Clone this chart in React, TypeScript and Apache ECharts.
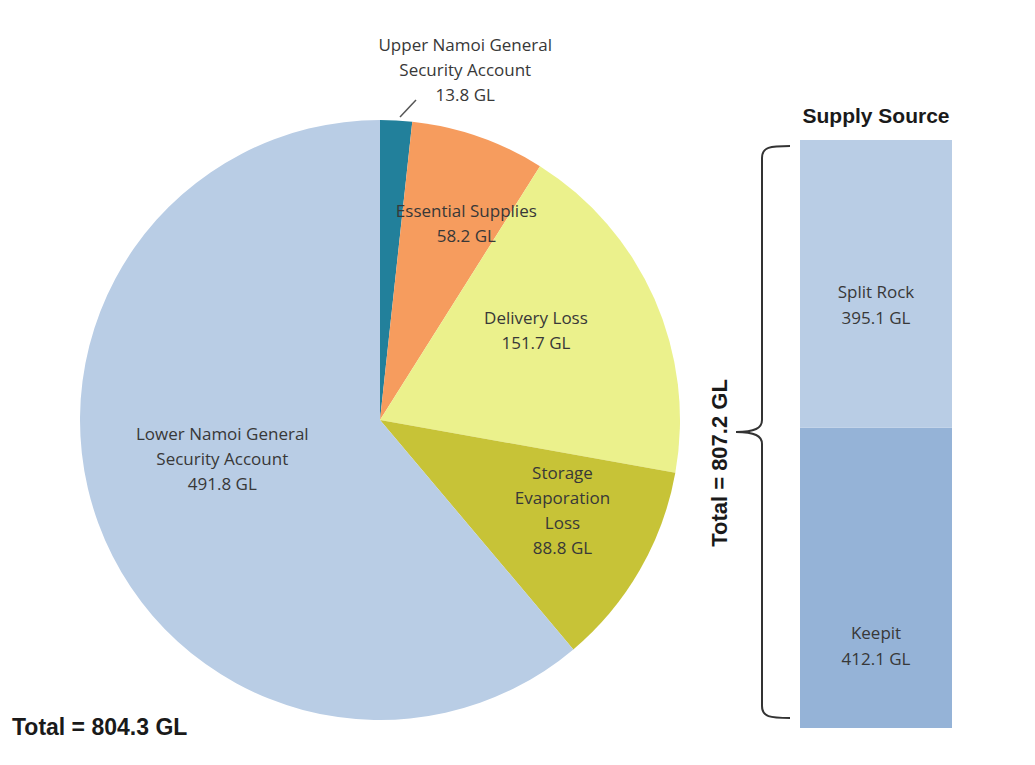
import React, { useEffect, useRef } from "react";
import * as echarts from "echarts";

// ---- data ----
const pieNames = [
  "Upper Namoi General\nSecurity Account",
  "Essential Supplies",
  "Delivery Loss",
  "Storage\nEvaporation\nLoss",
  "Lower Namoi General\nSecurity Account",
];
const pieValues = [13.8, 58.2, 151.7, 88.8, 491.8];
const pieTotalLabel = "Total = 804.3 GL";

const supplyNames = ["Keepit", "Split Rock"];
const supplyValues = [412.1, 395.1];
const supplyTotal = 807.2;
const supplyTotalLabel = "Total = 807.2 GL";
const supplyTitle = "Supply Source";

// ---- styles / layout ----
const pieColors = ["#22809b", "#f69c5e", "#ebf18c", "#c7c337", "#b9cde5"];
const pieLabelShift = [
  [77, -198],
  [36, -53],
  [16, -28],
  [50, 13],
  [-14, -14],
];
const barColors = ["#95b3d7", "#b9cde5"];
const barLabelShift = [68, 21];

const bracePath =
  "M790,146 C770,146 762,147 762,158 L762,420 C762,428 755,432 736,432 C755,432 762,436 762,444 L762,706 C762,717 770,718 790,718";

echarts.graphic.registerShape("brace", echarts.graphic.extendPath(bracePath, {}));

const labelFont = "'Open Sans', 'Noto Sans', sans-serif";
const boldFont = "'Liberation Sans', Arial, sans-serif";

export default function App() {
  const ref = useRef<HTMLDivElement>(null);
  useEffect(() => {
    document.body.style.margin = "0";
    const chart = echarts.init(ref.current!, null, { renderer: "svg" });
    chart.setOption({
      animation: false,
      backgroundColor: "#ffffff",
      grid: { left: 800, top: 140, width: 152, height: 588 },
      xAxis: { type: "category", data: ["supply"], show: false },
      yAxis: { type: "value", min: 0, max: supplyTotal, show: false },
      series: [
        {
          type: "pie",
          center: [380, 420],
          radius: 300,
          startAngle: 90,
          clockwise: true,
          label: {
            show: true,
            position: "inside",
            formatter: (p: any) => `${p.name}\n${p.value} GL`,
            color: "#383838",
            fontFamily: labelFont,
            fontSize: 17,
            lineHeight: 25,
            align: "center",
          },
          labelLine: { show: false },
          labelLayout: (p: any) => ({
            dx: pieLabelShift[p.dataIndex][0],
            dy: pieLabelShift[p.dataIndex][1],
          }),
          itemStyle: { borderWidth: 0 },
          emphasis: { disabled: true },
          data: pieNames.map((n, i) => ({
            name: n,
            value: pieValues[i],
            itemStyle: { color: pieColors[i] },
          })),
        },
        ...supplyNames.map((n, i) => ({
          type: "bar",
          name: n,
          stack: "total",
          barWidth: "100%",
          data: [supplyValues[i]],
          itemStyle: { color: barColors[i] },
          label: {
            show: true,
            position: "inside",
            formatter: (p: any) => `${p.seriesName}\n${p.value} GL`,
            color: "#383838",
            fontFamily: labelFont,
            fontSize: 17,
            lineHeight: 26,
            offset: [0, barLabelShift[i]],
          },
          emphasis: { disabled: true },
        })),
      ],
      graphic: [
        {
          type: "line",
          shape: { x1: 400, y1: 117, x2: 416, y2: 100 },
          style: { stroke: "#555", lineWidth: 1.5 },
        },
        {
          type: "brace",
          x: 0,
          y: 0,
          shape: {},
          style: { fill: "none", stroke: "#333", lineWidth: 2 },
        },
        {
          type: "text",
          x: 876,
          y: 115,
          style: {
            text: supplyTitle,
            font: `bold 21px ${boldFont}`,
            fill: "#1a1a1a",
            align: "center",
            verticalAlign: "middle",
          },
        },
        {
          type: "text",
          x: 719,
          y: 463,
          rotation: Math.PI / 2,
          style: {
            text: supplyTotalLabel,
            font: `bold 22px ${boldFont}`,
            fill: "#1a1a1a",
            align: "center",
            verticalAlign: "middle",
          },
        },
        {
          type: "text",
          x: 12,
          y: 727,
          style: {
            text: pieTotalLabel,
            font: `bold 23px ${boldFont}`,
            fill: "#1a1a1a",
            align: "left",
            verticalAlign: "middle",
          },
        },
      ],
    });
    return () => chart.dispose();
  }, []);
  return <div ref={ref} style={{ width: 1035, height: 765 }} />;
}
